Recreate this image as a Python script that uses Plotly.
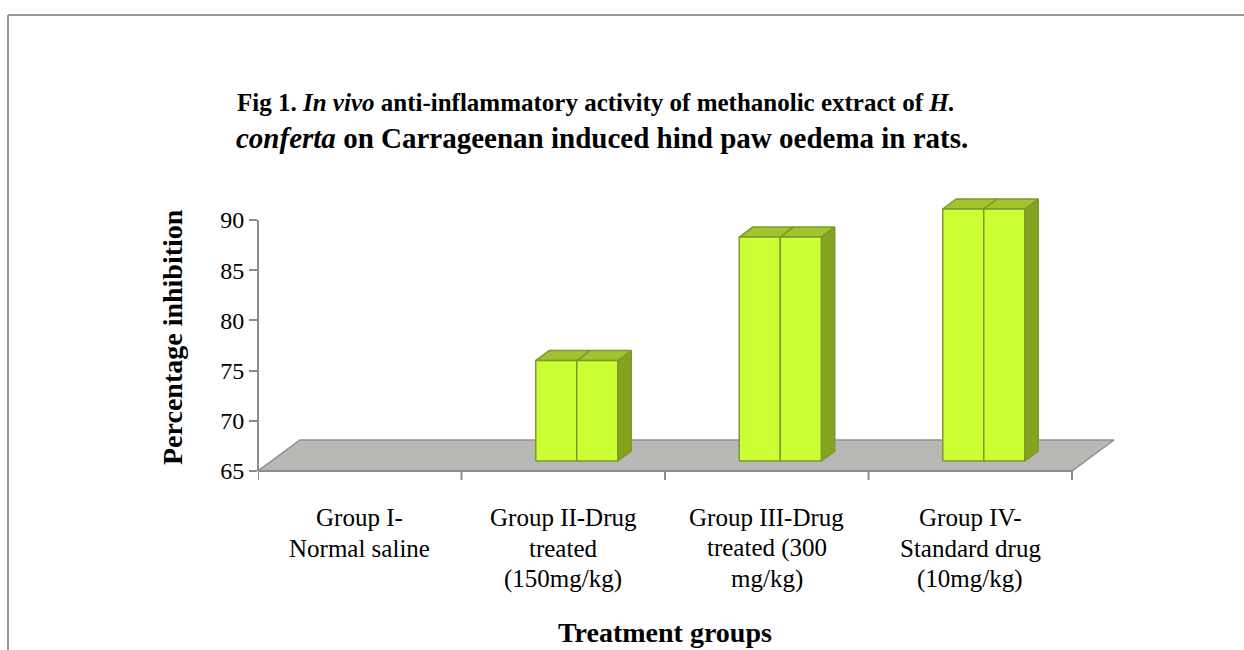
import plotly.graph_objects as go

# ---- data ----
categories = ["Group I-<br>Normal saline",
              "Group II-Drug<br>treated<br>(150mg/kg)",
              "Group III-Drug<br>treated (300<br>mg/kg)",
              "Group IV-<br>Standard drug<br>(10mg/kg)"]
series_a = [0.0, 75.0, 87.3, 90.1]
series_b = [0.0, 75.0, 87.3, 90.1]
y_ticks = [65, 70, 75, 80, 85, 90]

# ---- geometry (pixel layout) ----
W, H = 1244, 650
L, R = 258, 1120          # plot area px
T, B = 195, 471
XU = 203.5                # px per category
YU = 10.04                # px per unit
X0 = -0.5
X1 = X0 + (R - L) / XU
Y0 = 65
Y1 = Y0 + (B - T) / YU

FLOOR_DX = 42 / XU
FLOOR_DY = 31 / YU
OFF_DX = 13.5 / XU        # bar front plane offset
OFF_DY = 10 / YU
DEP_DX = 13.5 / XU        # bar depth
DEP_DY = 10 / YU
BW = 41 / XU              # width of one bar

FONT = "Liberation Serif"
FRONT = "#CCFF33"
TOP = "#A2C52F"
SIDE = "#84A41F"
EDGE = "#7A9A2C"

fig = go.Figure()

def poly(xs, ys, fill, line=EDGE, w=1.5):
    fig.add_trace(go.Scatter(x=xs + [xs[0]], y=ys + [ys[0]], mode="lines",
                             fill="toself", fillcolor=fill,
                             line=dict(color=line, width=w),
                             hoverinfo="skip", showlegend=False))

# floor
n = len(categories)
fx = [X0, X0 + n, X0 + n + FLOOR_DX, X0 + FLOOR_DX]
fy = [Y0, Y0, Y0 + FLOOR_DY, Y0 + FLOOR_DY]
poly(fx, fy, "#B8B9B4", line="#8E8E8E", w=1.5)

# bars
for i in range(n):
    for k, vals in enumerate([series_a, series_b]):
        v = vals[i]
        if v <= Y0:
            continue
        xl = i + OFF_DX - BW + k * BW
        xr = xl + BW
        yb = Y0 + OFF_DY
        yt = v + OFF_DY
        # side
        poly([xr, xr + DEP_DX, xr + DEP_DX, xr],
             [yb, yb + DEP_DY, yt + DEP_DY, yt], SIDE)
        # top
        poly([xl, xr, xr + DEP_DX, xl + DEP_DX],
             [yt, yt, yt + DEP_DY, yt + DEP_DY], TOP)
        # front
        poly([xl, xr, xr, xl], [yb, yb, yt, yt], FRONT)

def px2paper_x(px):
    return (px - L) / (R - L)

def py2paper_y(py):
    return (B - py) / (B - T)

shapes = []
AX = "#8C8C8C"
# y axis line
shapes.append(dict(type="line", xref="paper", yref="y", x0=0, x1=0,
                   y0=Y0, y1=y_ticks[-1], line=dict(color=AX, width=2)))
# x axis line
shapes.append(dict(type="line", xref="x", yref="paper", x0=X0, x1=X0 + n,
                   y0=0, y1=0, line=dict(color=AX, width=2)))
for j in range(n + 1):
    shapes.append(dict(type="line", xref="x", yref="paper", x0=X0 + j, x1=X0 + j,
                       y0=0, y1=-9 / (B - T), line=dict(color=AX, width=2)))
# outer border
shapes.append(dict(type="line", xref="paper", yref="paper",
                   x0=px2paper_x(8), x1=px2paper_x(1250),
                   y0=py2paper_y(15), y1=py2paper_y(15),
                   line=dict(color="#9A9A9A", width=2)))
shapes.append(dict(type="line", xref="paper", yref="paper",
                   x0=px2paper_x(8), x1=px2paper_x(8),
                   y0=py2paper_y(15), y1=py2paper_y(660),
                   line=dict(color="#9A9A9A", width=2)))

ann = []
# title
ann.append(dict(text="<b>Fig 1. <i>In vivo</i> anti-inflammatory activity of methanolic extract of <i>H.</i></b>",
                xref="paper", yref="paper", x=px2paper_x(596), y=py2paper_y(102),
                xanchor="center", yanchor="middle", showarrow=False,
                font=dict(family=FONT, size=25, color="black")))
ann.append(dict(text="<b><i>conferta</i> on Carrageenan induced hind paw oedema in rats.</b>",
                xref="paper", yref="paper", x=px2paper_x(602), y=py2paper_y(138),
                xanchor="center", yanchor="middle", showarrow=False,
                font=dict(family=FONT, size=29, color="black")))
# category labels
for i, lab in enumerate(categories):
    for li, line in enumerate(lab.split("<br>")):
        ann.append(dict(text=line, xref="x", yref="paper", x=i,
                        y=py2paper_y(517 + 31 * li), xanchor="center", yanchor="middle",
                        showarrow=False, font=dict(family=FONT, size=25, color="black")))
# axis titles
ann.append(dict(text="<b>Treatment groups</b>", xref="paper", yref="paper",
                x=px2paper_x(665), y=py2paper_y(632), xanchor="center", yanchor="middle",
                showarrow=False, font=dict(family=FONT, size=28, color="black")))
ann.append(dict(text="<b>Percentage inhibition</b>", xref="paper", yref="paper",
                x=px2paper_x(172), y=py2paper_y(337), xanchor="center", yanchor="middle",
                textangle=-90, showarrow=False, font=dict(family=FONT, size=28, color="black")))

fig.update_layout(
    width=W, height=H,
    margin=dict(l=L, r=W - R, t=T, b=H - B, pad=0),
    paper_bgcolor="white", plot_bgcolor="white",
    showlegend=False,
    xaxis=dict(range=[X0, X1], showgrid=False, zeroline=False, showline=False,
               showticklabels=False, ticks="", fixedrange=True),
    yaxis=dict(range=[Y0, Y1], showgrid=False, zeroline=False, showline=False,
               tickvals=y_ticks, ticktext=[str(t) for t in y_ticks],
               ticks="outside", ticklen=8, tickwidth=2, tickcolor=AX,
               tickfont=dict(family=FONT, size=24, color="black"), fixedrange=True),
    shapes=shapes, annotations=ann,
)

fig.write_html("out.html", config={"displayModeBar": False},
               post_script="document.body.style.margin='0';")
